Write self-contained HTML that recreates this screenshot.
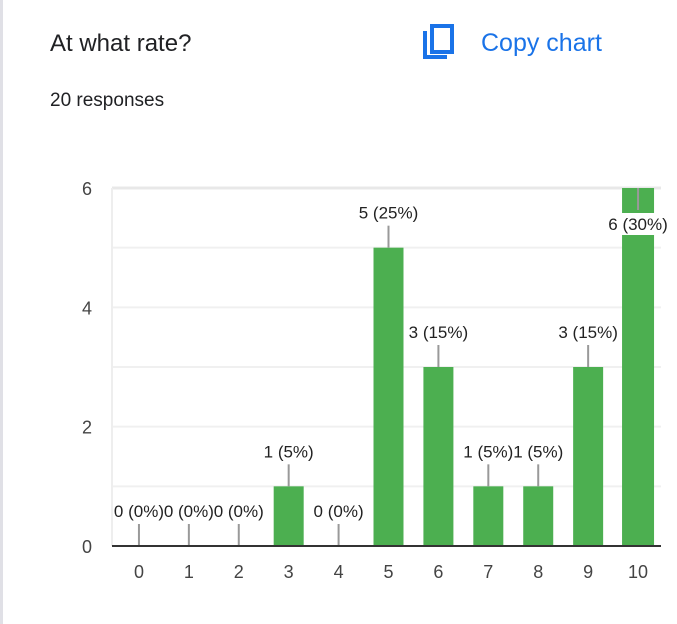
<!DOCTYPE html>
<html><head><meta charset="utf-8"><style>
body{margin:0;width:677px;height:624px;background:#fff;font-family:"Liberation Sans",sans-serif;position:relative;overflow:hidden}
.edge{position:absolute;left:0;top:0;width:3px;height:624px;background:#e0e0e6}
.title{position:absolute;left:50px;top:30px;font-size:24px;color:#202124}
.resp{position:absolute;left:50px;top:90px;font-size:19px;color:#202124}
.copy{position:absolute;left:420px;top:24px;display:flex;align-items:center;color:#1a73e8;font-size:25px;font-weight:500}
</style></head><body>
<div class="edge"></div>
<div class="title">At what rate?</div>
<div class="resp">20 responses</div>
<div class="copy">
<svg width="36" height="38" viewBox="0 0 36 38"><rect x="3" y="7" width="4" height="28" fill="#1a73e8"/><rect x="3" y="31" width="24" height="4" fill="#1a73e8"/><rect x="12" y="2" width="20" height="26" fill="none" stroke="#1a73e8" stroke-width="4"/></svg>
<span style="margin-left:25px">Copy chart</span></div>
<svg id="chart" width="677" height="624" style="position:absolute;left:0;top:0"></svg>
<script>
const categories=["0","1","2","3","4","5","6","7","8","9","10"];
const counts=[0,0,0,1,0,5,3,1,1,3,6];
const percents=["0%","0%","0%","5%","0%","25%","15%","5%","5%","15%","30%"];
const yTicks=[0,2,4,6];
const svg=document.getElementById('chart');
const NS="http://www.w3.org/2000/svg";
const L=112,R=661,T=188,B=546,yMax=6;
const y=v=>B-(v/yMax)*(B-T);
const band=(R-L)/categories.length;
const x=i=>L+band*(i+0.5)+2;
function mk(t,a){const e=document.createElementNS(NS,t);for(const k in a)e.setAttribute(k,a[k]);svg.appendChild(e);return e;}
for(let v=0;v<=yMax;v++){const g=mk('line',{x1:L,x2:R,y1:y(v),y2:y(v),stroke:v===yMax?'#e8e8e8':'#f0f0f0','stroke-width':v===yMax?3:2});

}
mk('line',{x1:L,x2:L,y1:T,y2:B,stroke:'#eee','stroke-width':2});
yTicks.forEach(v=>{const t=mk('text',{x:92,y:y(v)+7,'text-anchor':'end','font-size':18,fill:'#444'});t.textContent=v;

});
categories.forEach((c,i)=>{
const cx=x(i),v=counts[i],w=i===10?32:30;
if(v>0){const b=mk('rect',{x:cx-w/2,y:y(v),width:w,height:B-y(v),fill:'#4caf50'});

}
const t=mk('text',{x:cx,y:578,'text-anchor':'middle','font-size':18,fill:'#444'});t.textContent=c;


let ly1,ly2,ty;
if(y(v)-40<T-15){ly1=y(v);ly2=y(v)+22;ty=y(v)+42;}else{ly1=y(v);ly2=y(v)-22;ty=y(v)-29;}
const ln=mk('line',{x1:cx,x2:cx,y1:ly1,y2:ly2,stroke:'#999','stroke-width':2});


if(ty>y(v)){mk('rect',{x:cx-34,y:ty-17,width:60,height:22,fill:'#fff'});}
const lab=mk('text',{x:cx,y:ty,'text-anchor':'middle','font-size':17,fill:'#222'});
lab.textContent=v+' ('+percents[i]+')';


});
mk('line',{x1:L,x2:R,y1:B,y2:B,stroke:'#333','stroke-width':2});
</script>
</body></html>
